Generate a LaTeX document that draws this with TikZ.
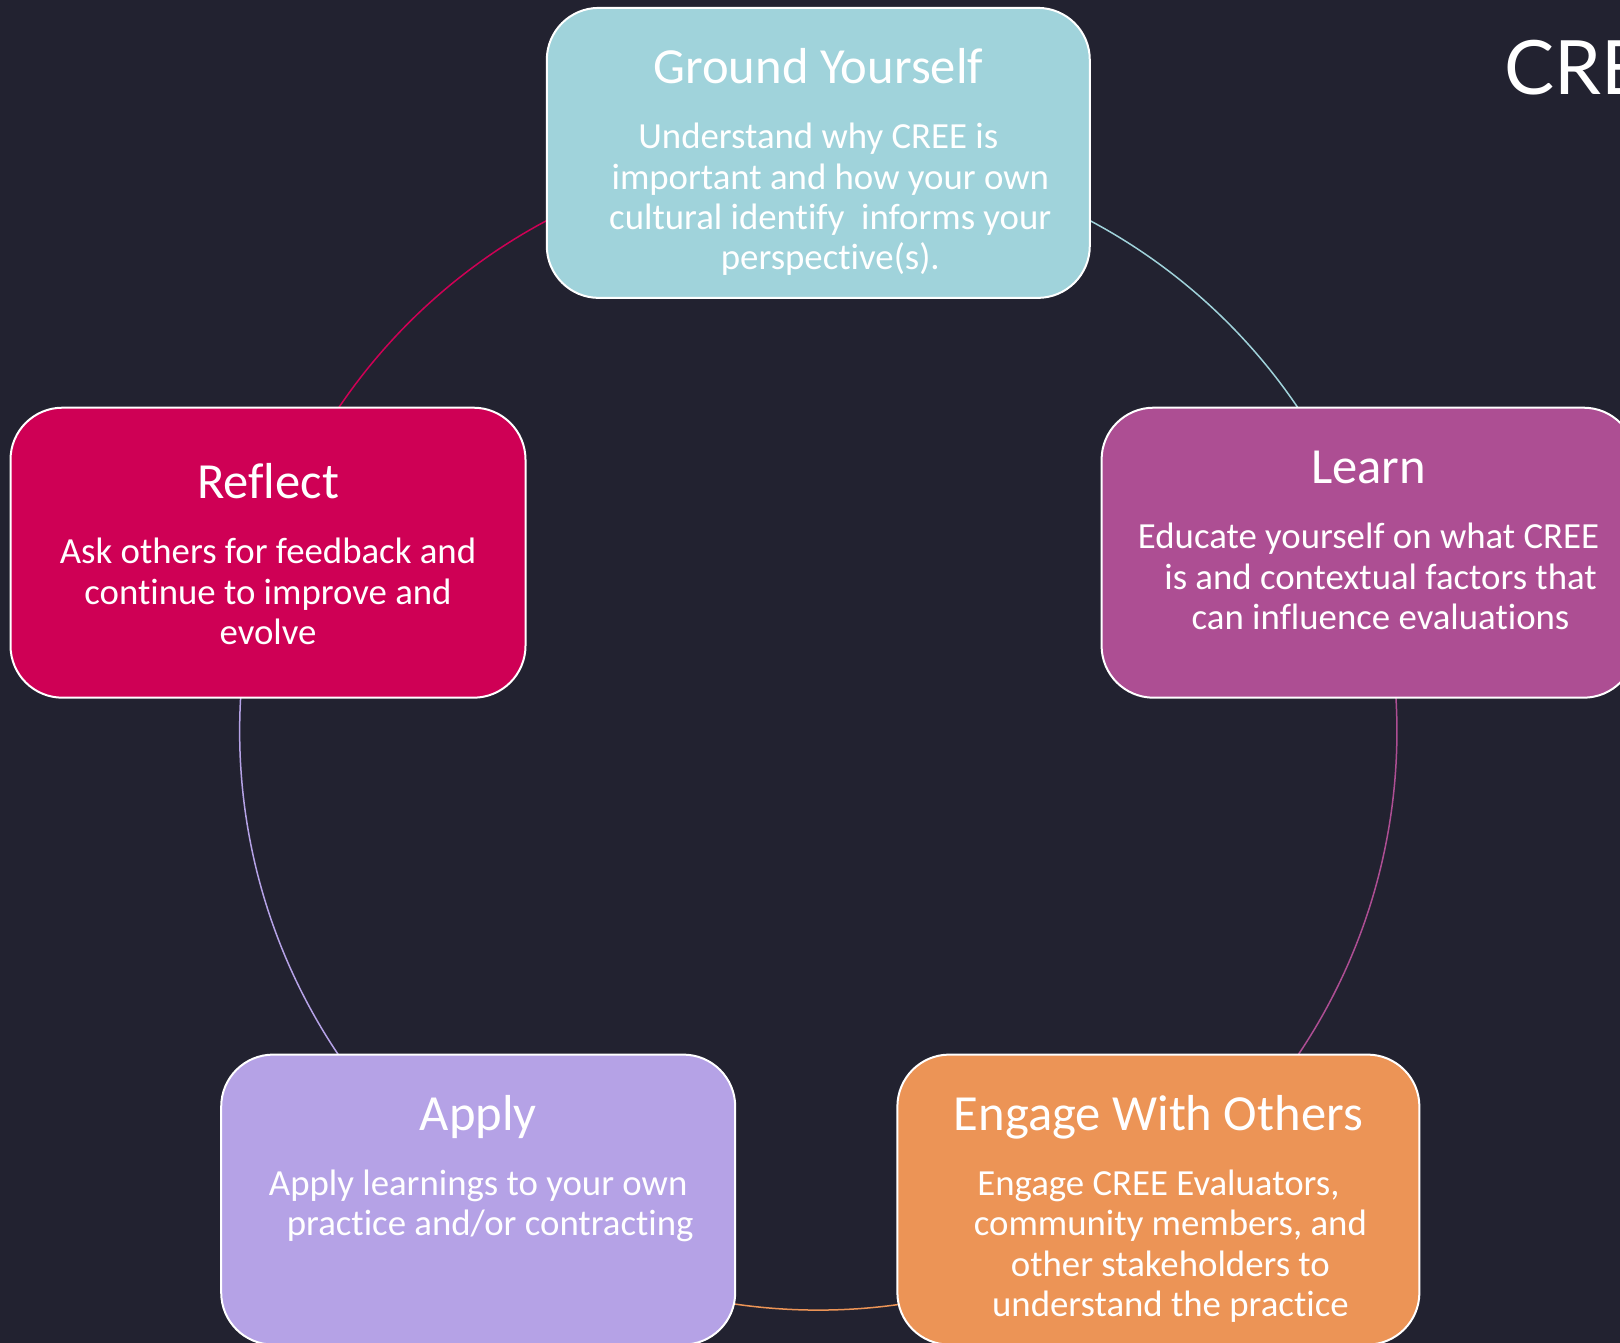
\documentclass[tikz,border=0pt]{standalone}
\usepackage{fontspec}
\setmainfont{Carlito}[Ligatures=CommonOff]
\newfontfamily\bannerfont{Lato}
\usetikzlibrary{positioning}
\usepackage{xcolor}
\definecolor{night}{HTML}{222230}
\definecolor{groundblue}{HTML}{A0D3DB}
\definecolor{learnplum}{HTML}{AD4E93}
\definecolor{engageorange}{HTML}{EC9456}
\definecolor{applylilac}{HTML}{B5A2E6}
\definecolor{reflectred}{HTML}{CF0055}
\pgfdeclarelayer{background}
\pgfsetlayers{background,main}
% pushes a wrapped line a little to the right
\newcommand{\wrapin}{\hspace*{24pt}}

\begin{document}
\begin{tikzpicture}[
    x=1pt, y=1pt,
    stage/.style={rectangle, draw=white, line width=2pt,
      rounded corners=52pt, minimum height=290pt, inner sep=0pt},
    head/.style={anchor=base, text=white, inner sep=0pt,
      font=\fontsize{50.6}{60}\selectfont},
    % base of a multi-line node sits on its last line
    blurb/.style={anchor=base, text=white, inner sep=0pt, align=center,
      font=\fontsize{36.8}{40.4}\selectfont},
    ring/.style={line width=1.5pt},
  ]
  \useasboundingbox (-818.3,-611.5) rectangle (801.7,731.5);

  % Ground Yourself (top)
  \node[stage, fill=groundblue, minimum width=543pt] (ground) at (90:578.6) {};
  \node[below=77pt of ground.north, head] (groundhead) {Ground Yourself};
  \node[below=186pt of groundhead.base, blurb] (groundtext)
    {Understand why CREE is\\\wrapin important and how your own\\
     \wrapin cultural identify\ \ informs your\\\wrapin perspective(s).};

  % Learn
  \node[stage, fill=learnplum, minimum width=534pt] (learn) at (18:578.6) {};
  \node[below=77pt of learn.north, head] (learnhead) {Learn};
  \node[below=146pt of learnhead.base, blurb] (learntext)
    {Educate yourself on what CREE\\\wrapin is and contextual factors that\\
     \wrapin can influence evaluations};

  % Engage With Others
  \node[stage, fill=engageorange, minimum width=522pt] (engage) at (-54:578.6) {};
  \node[below=77pt of engage.north, head] (engagehead) {Engage With Others};
  \node[below=186pt of engagehead.base, blurb] (engagetext)
    {Engage CREE Evaluators,\\\wrapin community members, and\\
     \wrapin other stakeholders to\\\wrapin understand the practice};

  % Apply
  \node[stage, fill=applylilac, minimum width=514pt] (apply) at (-126:578.6) {};
  \node[below=77pt of apply.north, head] (applyhead) {Apply};
  \node[below=105pt of applyhead.base, blurb] (applytext)
    {Apply learnings to your own\\\wrapin practice and/or contracting};

  % Reflect
  \node[stage, fill=reflectred, minimum width=515pt] (reflect) at (162:578.6) {};
  \node[below=92pt of reflect.north, head] (reflecthead) {Reflect};
  \node[below=146pt of reflecthead.base, blurb] (reflecttext)
    {Ask others for feedback and\\continue to improve and\\evolve};

  % title, runs off the right edge
  \node[anchor=base west, inner sep=0pt, text=white,
    font=\bannerfont\fontsize{75}{90}\selectfont] (banner) at (685.7,636.5) {CRE};

  % backdrop and the ring between the stages
  \begin{pgfonlayer}{background}
    \fill[night] (-818.3,-611.5) rectangle (801.7,731.5);
    \draw[ring, draw=groundblue] (ground.center)
      arc[start angle=90, end angle=18, radius=578.6pt];
    \draw[ring, draw=learnplum] (learn.center)
      arc[start angle=18, end angle=-54, radius=578.6pt];
    \draw[ring, draw=engageorange] (engage.center)
      arc[start angle=-54, end angle=-126, radius=578.6pt];
    \draw[ring, draw=applylilac] (apply.center)
      arc[start angle=-126, end angle=-198, radius=578.6pt];
    \draw[ring, draw=reflectred] (reflect.center)
      arc[start angle=162, end angle=90, radius=578.6pt];
  \end{pgfonlayer}
\end{tikzpicture}
\end{document}
